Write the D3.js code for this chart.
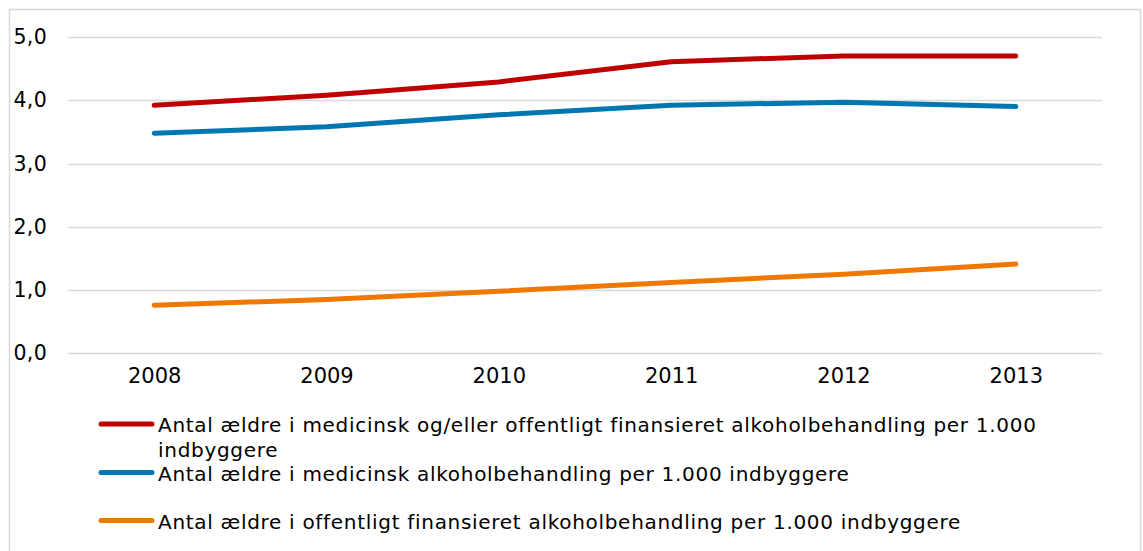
<!DOCTYPE html>
<html>
<head>
<meta charset="utf-8">
<script src="https://cdn.jsdelivr.net/npm/d3@7"></script>
<style>
  body { margin: 0; background: #fff; }
  svg { display: block; }
  text { font-family: "DejaVu Sans", Verdana, sans-serif; fill: #000; }
</style>
</head>
<body>
<svg width="1143" height="551"></svg>
<script>
var years = ["2008", "2009", "2010", "2011", "2012", "2013"];

var medOrOff = [3.92, 4.08, 4.29, 4.61, 4.70, 4.70];
var medicinsk = [3.48, 3.58, 3.77, 3.92, 3.97, 3.90];
var offentlig = [0.76, 0.85, 0.98, 1.12, 1.25, 1.41];

var yTicks = [0, 1, 2, 3, 4, 5];

var seriesNames = [
    "Antal ældre i medicinsk og/eller offentligt finansieret alkoholbehandling per 1.000 indbyggere",
    "Antal ældre i medicinsk alkoholbehandling per 1.000 indbyggere",
    "Antal ældre i offentligt finansieret alkoholbehandling per 1.000 indbyggere"
];
var seriesColors = ["#c00000", "#0077b0", "#f07800"];

var series = [medOrOff, medicinsk, offentlig].map(function (vals, i) {
    return {
        id: seriesNames[i],
        color: seriesColors[i],
        values: vals.map(function (v, j) { return { year: years[j], value: v }; })
    };
});

var svg = d3.select("svg");

// outer frame
svg.append("rect")
    .attr("x", 9.5)
    .attr("y", 9.5)
    .attr("width", 1131)
    .attr("height", 560)
    .attr("fill", "none")
    .attr("stroke", "#d9d9d9")
    .attr("stroke-width", 1.5);

var xScale = d3.scalePoint().domain(years).range([68, 1102]).padding(0.5),
    yScale = d3.scaleLinear().domain([0, 5]).range([353.3, 37]);

// grid lines
svg.append("g")
    .attr("class", "grid")
    .selectAll("line")
    .data(yTicks)
    .enter().append("line")
    .attr("x1", 68)
    .attr("x2", 1102)
    .attr("y1", function (d) { return Math.round(yScale(d)) + 0.5; })
    .attr("y2", function (d) { return Math.round(yScale(d)) + 0.5; })
    .attr("stroke", "#d9d9d9")
    .attr("stroke-width", 1.5);

// y axis labels
var yAxis = d3.axisLeft(yScale)
    .tickValues(yTicks)
    .tickSize(0)
    .tickPadding(0)
    .tickFormat(function (d) { return d3.format(".1f")(d).replace(".", ","); });

var gY = svg.append("g")
    .attr("transform", "translate(47,0)")
    .call(yAxis);
gY.select(".domain").remove();
gY.selectAll("text")
    .style("font-size", "20.5px")
    .style("letter-spacing", "0.3px")
    .style("font-family", "DejaVu Sans, Verdana, sans-serif")
    .attr("fill", "#000");

// x axis labels
var xAxis = d3.axisBottom(xScale).tickSize(0).tickPadding(0);
var gX = svg.append("g")
    .attr("transform", "translate(0,368)")
    .call(xAxis);
gX.select(".domain").remove();
gX.selectAll("text")
    .attr("dy", "0.71em")
    .style("font-size", "21px")
    .style("font-family", "DejaVu Sans, Verdana, sans-serif")
    .attr("fill", "#000");

var line = d3.line()
    .x(function (d) { return xScale(d.year); })
    .y(function (d) { return yScale(d.value); });

svg.selectAll(".series")
    .data(series)
    .enter().append("path")
    .attr("class", "series")
    .attr("d", function (d) { return line(d.values); })
    .attr("fill", "none")
    .attr("stroke", function (d) { return d.color; })
    .attr("stroke-width", 5)
    .attr("stroke-linecap", "round")
    .attr("stroke-linejoin", "round");

// legend
var legendRowY = [424, 472.5, 520.5];
var legend = svg.append("g").attr("class", "legend");

var legendRows = legend.selectAll(".legend-row")
    .data(series)
    .enter().append("g")
    .attr("class", "legend-row")
    .attr("transform", function (d, i) { return "translate(0," + legendRowY[i] + ")"; });

legendRows.append("line")
    .attr("x1", 101)
    .attr("x2", 152)
    .attr("stroke", function (d) { return d.color; })
    .attr("stroke-width", 5)
    .attr("stroke-linecap", "round");

legendRows.append("text")
    .attr("x", 158)
    .attr("y", 8)
    .style("font-size", "20px")
    .style("letter-spacing", "0.7px")
    .each(function (d) {
        var text = d3.select(this),
            words = d.id.split(" "),
            maxWidth = 940,
            current = [],
            tspan = text.append("tspan").attr("x", 158).attr("dy", 0);
        words.forEach(function (w) {
            current.push(w);
            tspan.text(current.join(" "));
            if (tspan.node().getComputedTextLength() > maxWidth && current.length > 1) {
                current.pop();
                tspan.text(current.join(" "));
                current = [w];
                tspan = text.append("tspan").attr("x", 158).attr("dy", "1.23em").text(w);
            }
        });
    });
</script>
</body>
</html>
